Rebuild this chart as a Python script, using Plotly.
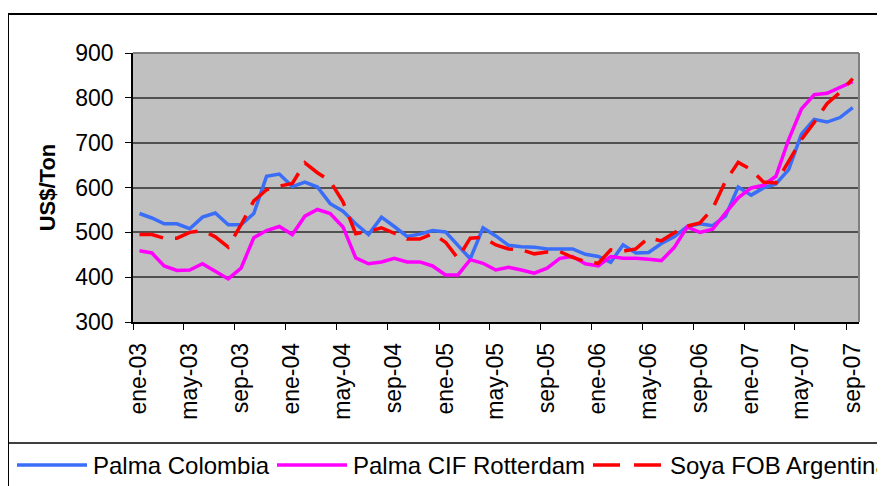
import plotly.graph_objects as go
import pandas as pd

# monthly prices, ene-03 .. sep-07 (US$/Ton)
months = pd.date_range("2003-01-01", periods=57, freq="MS")

palma_colombia = [542, 532, 519, 519, 508, 534, 543, 517, 517, 542, 625, 630,
                  602, 612, 601, 564, 547, 519, 495, 534, 513, 491, 496, 504,
                  501, 470, 441, 510, 492, 471, 468, 467, 463, 463, 463, 451,
                  446, 433, 472, 454, 455, 475, 490, 513, 519, 515, 536, 601,
                  583, 599, 608, 640, 719, 752, 746, 756, 778]

palma_cif_rotterdam = [459, 454, 425, 415, 416, 430, 413, 396, 420, 488, 504, 513,
                       495, 536, 551, 542, 512, 443, 430, 434, 442, 434, 434, 425,
                       405, 405, 439, 431, 416, 422, 416, 409, 420, 442, 446, 430,
                       425, 446, 442, 442, 440, 437, 466, 512, 500, 507, 543, 577,
                       599, 605, 625, 707, 775, 807, 810, 823, 836]

soya_fob_argentina = [495, 495, 487, 487, 500, 504, 490, 467, 517, 570, 595, 603,
                      609, 655, 633, 614, 568, 497, 502, 510, 498, 485, 485, 497,
                      478, 442, 487, 489, 472, 463, 461, 452, 456, 457, 444, 435,
                      431, 461, 458, 463, 488, 481, 499, 514, 521, 553, 614, 656,
                      640, 612, 610, 660, 707, 745, 787, 812, 843]

series_names = ["Palma Colombia", "Palma CIF Rotterdam", "Soya FOB Argentina"]

tick_dates = ["2003-01-01", "2003-05-01", "2003-09-01", "2004-01-01", "2004-05-01",
              "2004-09-01", "2005-01-01", "2005-05-01", "2005-09-01", "2006-01-01",
              "2006-05-01", "2006-09-01", "2007-01-01", "2007-05-01", "2007-09-01"]
tick_labels = ["ene-03", "may-03", "sep-03", "ene-04", "may-04", "sep-04", "ene-05",
               "may-05", "sep-05", "ene-06", "may-06", "sep-06", "ene-07", "may-07",
               "sep-07"]

FONT = "Liberation Sans, Arial, sans-serif"
OFF = 8                          # page body margin
W, H = 885 - OFF, 486 - OFF
L, R, T, B = 133, 859, 53, 322   # plot area in screen pixels


def px_x(px):
    return (px - L) / (R - L)


def px_y(py):
    return (B - py) / (B - T)


styles = [
    dict(color="#3a6ef8", width=3.5),
    dict(color="#ff00ff", width=3.5),
    dict(color="#ff0000", width=3.5, dash="24px,12px"),
]
legend_dash = ["solid", "solid", "27px,14px"]

fig = go.Figure()
for name, vals, st in zip(series_names,
                          [palma_colombia, palma_cif_rotterdam, soya_fob_argentina],
                          styles):
    fig.add_trace(go.Scatter(
        x=months, y=vals, mode="lines", name=name, line=st,
        xperiod="M1", xperiodalignment="middle", showlegend=False
    ))


def pline(x0, x1, y0, y1, color, width, dash="solid"):
    return dict(type="line", xref="paper", yref="paper",
                x0=x0, x1=x1, y0=y0, y1=y1,
                line=dict(color=color, width=width, dash=dash))


shapes = [
    # outer chart frame (cut off on the right and bottom)
    pline(px_x(8), px_x(8), px_y(14), px_y(500), "black", 2),
    pline(px_x(8), px_x(900), px_y(14), px_y(14), "black", 2),
    # legend box top
    pline(px_x(8), px_x(900), px_y(443), px_y(443), "black", 1.5),
    # plot area border top / right
    pline(0, 1, 1, 1, "#808080", 2),
    pline(1, 1, 0, 1, "#808080", 2),
]

annotations = []
legend_pos = [(17, 87, 91), (277, 347, 351), (593, 661, 668)]
for name, st, ld, (lx0, lx1, tx) in zip(series_names, styles, legend_dash, legend_pos):
    shapes.append(pline(px_x(lx0), px_x(lx1), px_y(465), px_y(465),
                        st["color"], 3.5, ld))
    annotations.append(dict(text=name, x=px_x(tx), y=px_y(465), xref="paper",
                            yref="paper", xanchor="left", yanchor="middle",
                            showarrow=False,
                            font=dict(family=FONT, size=24, color="black")))

fig.update_layout(
    width=W, height=H,
    margin=dict(l=L - OFF, r=W - (R - OFF), t=T - OFF, b=H - (B - OFF)),
    paper_bgcolor="white",
    plot_bgcolor="#c0c0c0",
    font=dict(family=FONT, size=23, color="black"),
    shapes=shapes,
    annotations=annotations,
    showlegend=False,
)

fig.update_xaxes(
    type="date",
    range=["2003-01-01", "2007-10-01"],
    tickvals=tick_dates, ticktext=tick_labels,
    tickangle=-90, ticks="outside", ticklen=6, tickcolor="black",
    ticklabelshift=6, ticklabelstandoff=4,
    showgrid=False, showline=True, linecolor="black", linewidth=1.5,
    tickfont=dict(family=FONT, size=23),
)

fig.update_yaxes(
    range=[300, 900], dtick=100,
    ticks="outside", ticklen=6, tickcolor="black", ticklabelstandoff=7,
    showgrid=True, gridcolor="#505050", gridwidth=1.5,
    zeroline=False, showline=True, linecolor="black", linewidth=1.5,
    tickfont=dict(family=FONT, size=23),
    title=dict(text="<b>US$/Ton</b>", font=dict(family=FONT, size=22), standoff=14),
)

fig.write_html("out.html")
